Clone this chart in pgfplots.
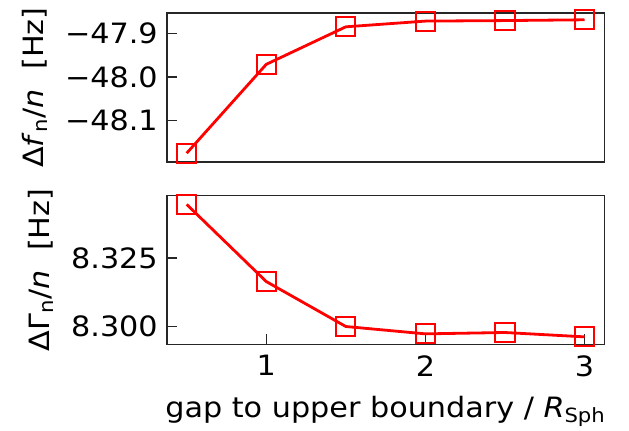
\documentclass[border=0pt]{standalone}
\usepackage{fontspec}
\setmainfont[FakeStretch=1.08]{DejaVu Sans}
\usepackage{pgfplots}
\pgfplotsset{compat=1.18}

\pgfplotsset{
  panel/.style={
    scale only axis, width=218.8pt, height=74.4pt,
    xmin=0.375, xmax=3.125,
    clip mode=individual,
    axis line style={black!85, line width=0.8pt},
    tick style={black!85, line width=0.7pt},
    tick align=inside, major tick length=5pt,
    ytick pos=left, xtick pos=bottom,
    minor tick num=0,
    tick label style={font=\fontsize{14}{16}\selectfont},
    label style={font=\fontsize{14}{16}\selectfont},
    yticklabel style={xshift=-1pt},
    xticklabel style={yshift=-2pt},
    ylabel style={yshift=2pt},
    xlabel style={yshift=-3pt},
  },
  series/.style={red, line width=1.4pt,
    mark=square, mark size=4.8pt, mark options={fill=none, line width=1pt, solid}},
}

\begin{document}
\begin{tikzpicture}
\useasboundingbox (0,0) rectangle (314.5pt,-215.5pt);

\begin{axis}[panel, at={(83.4pt,-6.65pt)}, anchor=north west,
  ymin=-48.195, ymax=-47.854,
  xtick=\empty,
  ytick={-48.1,-48.0,-47.9},
  yticklabels={−48.1,−48.0,−47.9},
  ylabel={Δ\textit{f}\textsubscript{n}/\textit{n}\ \ [Hz]},
]
\addplot[series] coordinates {
  (0.5,-48.1746) (1.0,-47.971) (1.5,-47.885) (2.0,-47.8719) (2.5,-47.8707) (3.0,-47.8689)
};
\end{axis}

\begin{axis}[panel, at={(83.4pt,-97.85pt)}, anchor=north west,
  ymin=8.2933, ymax=8.3479,
  xtick={1,2,3},
  xticklabels={1,2,3},
  ytick={8.300,8.325},
  yticklabels={8.300,8.325},
  ylabel={ΔΓ\textsubscript{n}/\textit{n}\ \ [Hz]},
  xlabel={gap to upper boundary / \textit{R}\textsubscript{Sph}},
]
\addplot[series] coordinates {
  (0.5,8.3447) (1.0,8.3164) (1.5,8.2999) (2.0,8.2972) (2.5,8.2977) (3.0,8.2961)
};
\end{axis}
\end{tikzpicture}
\end{document}
